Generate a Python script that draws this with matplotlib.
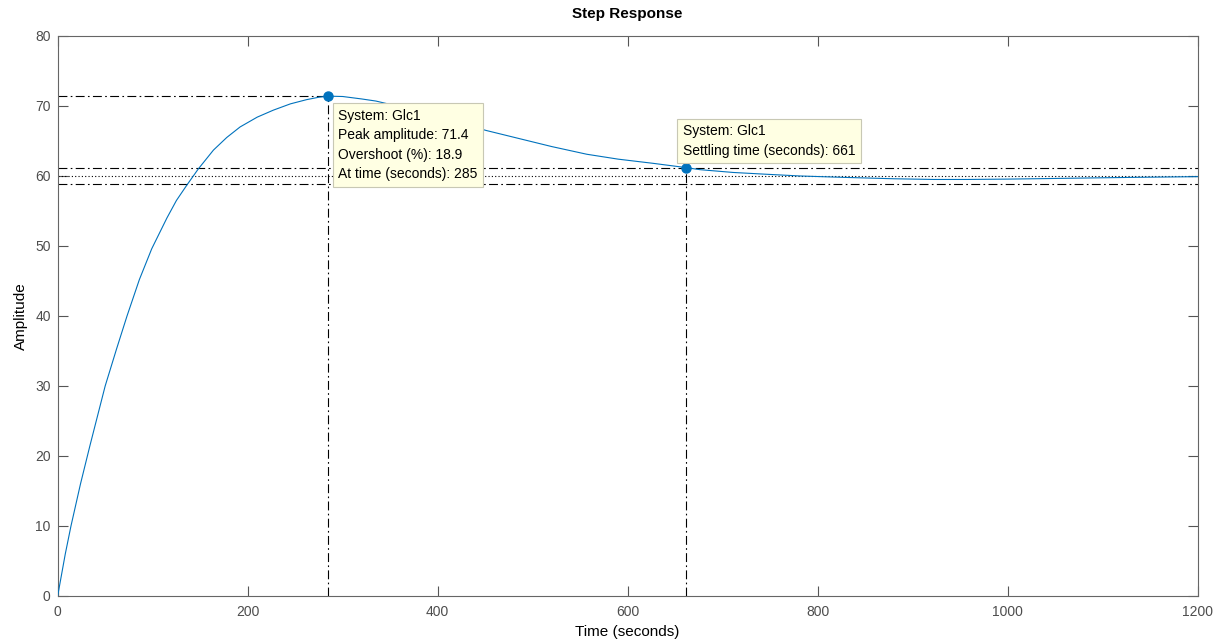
import numpy as np
from matplotlib import pyplot as plt

# step response
t = [0, 8, 14, 24, 34, 50, 62, 73, 86, 99, 115, 125, 136, 148, 164, 178, 192,
     210, 227, 245, 262, 275, 285, 300, 320, 335, 360, 390, 420, 451, 487,
     520, 557, 590, 627, 661, 676, 711, 745, 781, 827, 880, 922, 957, 1000,
     1027, 1080, 1132, 1200]
amp = [0, 6, 10, 16, 21.5, 30, 35.3, 40, 45.2, 49.6, 54.0, 56.5, 58.7, 61.0,
       63.7, 65.5, 67.0, 68.4, 69.4, 70.3, 70.9, 71.25, 71.4, 71.35, 71.0,
       70.7, 69.9, 68.8, 67.7, 66.5, 65.3, 64.2, 63.1, 62.4, 61.8, 61.2, 60.9,
       60.5, 60.25, 60.0, 59.8, 59.6, 59.5, 59.5, 59.55, 59.6, 59.7, 59.8, 59.9]

peak_t, peak_a, overshoot = 285, 71.4, 18.9
settle_t = 661
final = 60.0
band_hi, band_lo = 61.2, 58.8
sys_name = 'Glc1'

xticks = [0, 200, 400, 600, 800, 1000, 1200]
yticks = [0, 10, 20, 30, 40, 50, 60, 70, 80]

def main():
	plt.rcParams['font.family'] = ['Liberation Sans', 'DejaVu Sans']
	fig = plt.figure(figsize=(12.22, 6.42), dpi=100)
	ax = fig.add_axes([0.0472, 0.0717, 0.9329, 0.8723])

	blue = '#0072BD'
	dd = (0, (8, 3, 1.5, 3))
	ax.plot(t, amp, color=blue, lw=0.8, zorder=3)

	# characteristic lines
	ax.plot([0, peak_t], [peak_a, peak_a], color='k', lw=0.8, ls=dd, zorder=2)
	ax.plot([peak_t, peak_t], [0, peak_a], color='k', lw=0.8, ls=dd, zorder=2)
	ax.plot([settle_t, settle_t], [0, band_hi], color='k', lw=0.8, ls=dd, zorder=2)
	ax.axhline(band_hi, color='k', lw=0.8, ls=dd, zorder=2)
	ax.axhline(band_lo, color='k', lw=0.8, ls=dd, zorder=2)
	ax.axhline(final, color='k', lw=0.8, ls=(0, (1, 2)), zorder=2)

	ax.plot([peak_t, settle_t], [peak_a, band_hi], 'o', color=blue, ms=6.5, zorder=5)

	box = dict(boxstyle='square,pad=0.4', fc='#FFFFE3', ec='#C8C8B4', lw=0.8)
	ax.annotate('System: %s\nPeak amplitude: %.1f\nOvershoot (%%): %.1f\nAt time (seconds): %d'
				% (sys_name, peak_a, overshoot, peak_t),
				xy=(peak_t, peak_a), xytext=(7, -9), textcoords='offset points',
				ha='left', va='top', fontsize=10, linespacing=1.5,
				bbox=box, zorder=6)
	ax.annotate('System: %s\nSettling time (seconds): %d' % (sys_name, settle_t),
				xy=(settle_t, band_hi), xytext=(-2, 7), textcoords='offset points',
				ha='left', va='bottom', fontsize=10, linespacing=1.5,
				bbox=box, zorder=6)

	ax.set_xlim(0, 1200)
	ax.set_ylim(0, 80)
	ax.set_xticks(xticks)
	ax.set_yticks(yticks)
	ax.tick_params(direction='in', length=7.5, width=0.8, color='#555555',
				   labelcolor='#4D4D4D', labelsize=10, top=True, right=True)
	ax.tick_params(axis='x', pad=6.5)
	ax.tick_params(axis='y', pad=5)
	for s in ax.spines.values():
		s.set_color('#666666')
		s.set_linewidth(0.8)

	ax.set_title('Step Response', fontsize=11, fontweight='bold', pad=13)
	ax.set_xlabel('Time (seconds)', fontsize=11, labelpad=4)
	ax.set_ylabel('Amplitude', fontsize=11, labelpad=5)

	fig.savefig('out.png', dpi=100)
	return 0


if __name__ == '__main__':
	main()
